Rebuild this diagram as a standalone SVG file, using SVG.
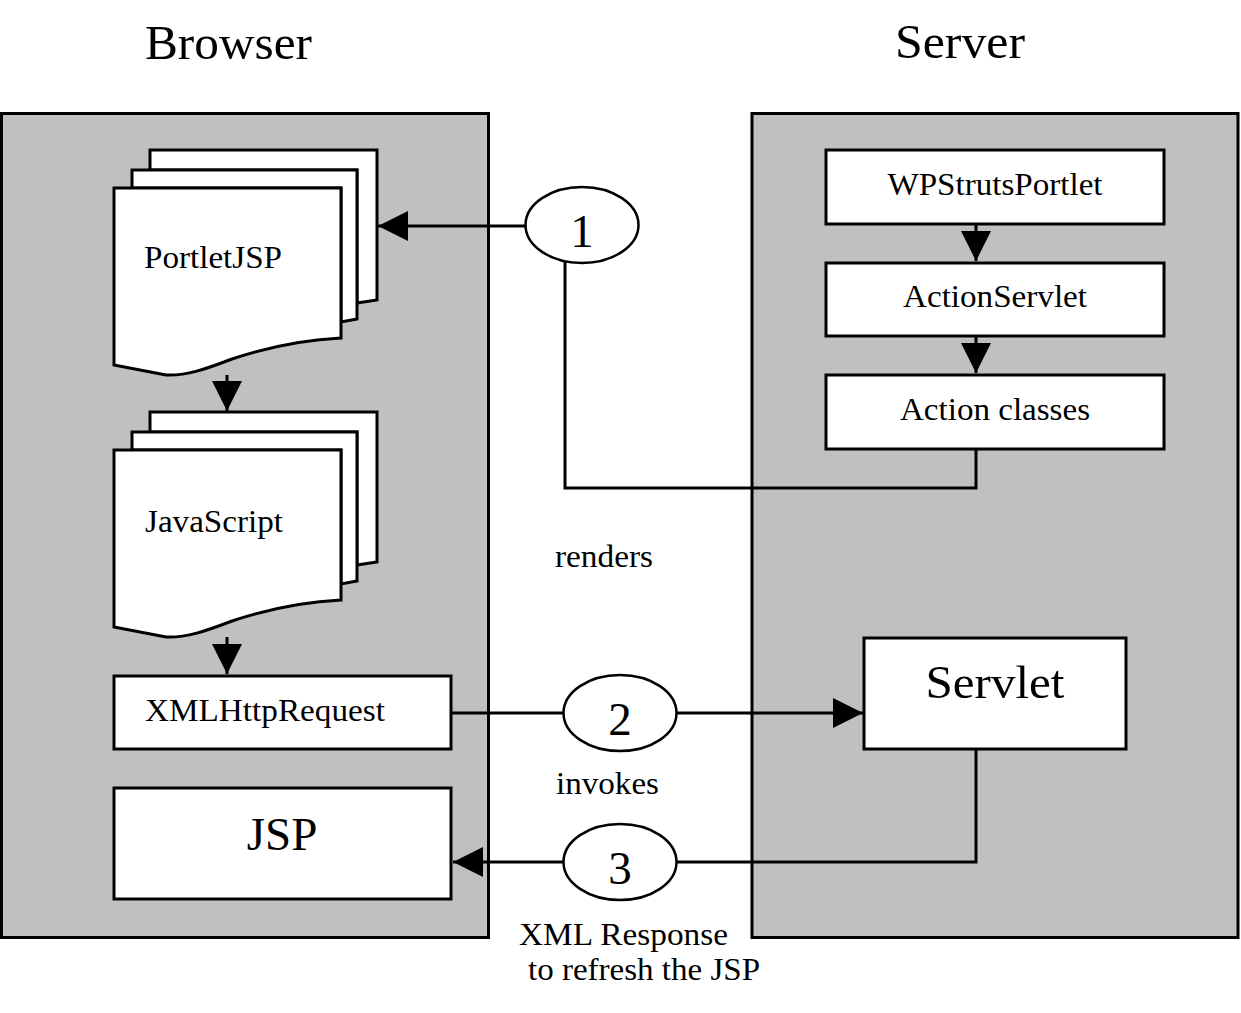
<svg xmlns="http://www.w3.org/2000/svg" width="1241" height="1013" viewBox="0 0 1241 1013">
<style>
.panel{fill:#c0c0c0;stroke:#000;stroke-width:3}
.box{fill:#fff;stroke:#000;stroke-width:3}
.doc{fill:#fff;stroke:#000;stroke-width:3;stroke-linejoin:miter}
.ell{fill:#fff;stroke:#000;stroke-width:2.5}
.conn{fill:none;stroke:#000;stroke-width:3}
text{font-family:"Liberation Serif","Times New Roman",serif;fill:#000}
.t{font-size:32px}
.big{font-size:47px}
.title{font-size:48px}
</style>
<defs>
<marker id="ah" markerUnits="userSpaceOnUse" markerWidth="31" markerHeight="31" refX="30" refY="15" orient="auto" viewBox="0 0 31 30">
<path d="M0,0 L30,15 L0,30 z" fill="#000"/>
</marker>
</defs>
<rect width="1241" height="1013" fill="#fff"/>
<text class="title" x="145" y="59" textLength="167" lengthAdjust="spacingAndGlyphs">Browser</text>
<text class="title" x="895" y="58" textLength="130" lengthAdjust="spacingAndGlyphs">Server</text>
<g id="browser-panel"><rect class="panel" x="1.5" y="113.5" width="487" height="824"/></g>
<g id="server-panel"><rect class="panel" x="752" y="113.5" width="486" height="824"/></g>
<g id="portletjsp">
<path class="doc" d="M150,150 L377,150 L377,300 L357,303 L357,170 L150,170 Z"/>
<path class="doc" d="M132,170 L357,170 L357,319 L341,322 L341,188 L132,188 Z"/>
<path class="doc" d="M114,188 L341,188 L341,338 C300,340 262,349 232,359 C206,369 186,376 166,375 L114,365 Z"/>
<text class="t" x="144" y="268" textLength="138" lengthAdjust="spacingAndGlyphs">PortletJSP</text>
</g>
<g id="javascript" transform="translate(0,262)">
<path class="doc" d="M150,150 L377,150 L377,300 L357,303 L357,170 L150,170 Z"/>
<path class="doc" d="M132,170 L357,170 L357,319 L341,322 L341,188 L132,188 Z"/>
<path class="doc" d="M114,188 L341,188 L341,338 C300,340 262,349 232,359 C206,369 186,376 166,375 L114,365 Z"/>
<text class="t" x="145" y="270" textLength="138" lengthAdjust="spacingAndGlyphs">JavaScript</text>
</g>
<g id="xmlhttprequest">
<rect class="box" x="114" y="676" width="337" height="73"/>
<text class="t" x="145" y="721" textLength="240" lengthAdjust="spacingAndGlyphs">XMLHttpRequest</text>
</g>
<g id="jsp">
<rect class="box" x="114" y="788" width="337" height="111"/>
<text class="big" x="282" y="850" text-anchor="middle">JSP</text>
</g>
<g id="wpstrutsportlet">
<rect class="box" x="826" y="150" width="338" height="74"/>
<text class="t" x="995" y="195" text-anchor="middle" textLength="215" lengthAdjust="spacingAndGlyphs">WPStrutsPortlet</text>
</g>
<g id="actionservlet">
<rect class="box" x="826" y="263" width="338" height="73"/>
<text class="t" x="995" y="307" text-anchor="middle" textLength="184" lengthAdjust="spacingAndGlyphs">ActionServlet</text>
</g>
<g id="actionclasses">
<rect class="box" x="826" y="375" width="338" height="74"/>
<text class="t" x="995" y="420" text-anchor="middle" textLength="190" lengthAdjust="spacingAndGlyphs">Action classes</text>
</g>
<g id="servlet">
<rect class="box" x="864" y="638" width="262" height="111"/>
<text class="big" x="995" y="698" text-anchor="middle" textLength="139" lengthAdjust="spacingAndGlyphs">Servlet</text>
</g>
<g id="connectors">
<line class="conn" x1="525" y1="226" x2="378" y2="226" marker-end="url(#ah)"/>
<polyline class="conn" points="976,449 976,488 565,488 565,262"/>
<line class="conn" x1="976" y1="224" x2="976" y2="261" marker-end="url(#ah)"/>
<line class="conn" x1="976" y1="336" x2="976" y2="373" marker-end="url(#ah)"/>
<line class="conn" x1="227" y1="375" x2="227" y2="411" marker-end="url(#ah)"/>
<line class="conn" x1="227" y1="637" x2="227" y2="674" marker-end="url(#ah)"/>
<line class="conn" x1="451" y1="713" x2="564" y2="713"/>
<line class="conn" x1="677" y1="713" x2="863" y2="713" marker-end="url(#ah)"/>
<polyline class="conn" points="976,749 976,862 677,862"/>
<line class="conn" x1="564" y1="862" x2="453" y2="862" marker-end="url(#ah)"/>
</g>
<g id="step1">
<ellipse class="ell" cx="582" cy="225" rx="56.5" ry="38"/>
<text class="big" x="582" y="247" text-anchor="middle">1</text>
</g>
<g id="step2">
<ellipse class="ell" cx="620" cy="713" rx="56.5" ry="38"/>
<text class="big" x="620" y="735" text-anchor="middle">2</text>
</g>
<g id="step3">
<ellipse class="ell" cx="620" cy="862" rx="56.5" ry="38"/>
<text class="big" x="620" y="884" text-anchor="middle">3</text>
</g>
<g id="labels">
<text class="t" x="555" y="567" textLength="98" lengthAdjust="spacingAndGlyphs">renders</text>
<text class="t" x="556" y="794" textLength="103" lengthAdjust="spacingAndGlyphs">invokes</text>
<text class="t" x="519" y="945" textLength="209" lengthAdjust="spacingAndGlyphs">XML Response</text>
<text class="t" x="528" y="980" textLength="232" lengthAdjust="spacingAndGlyphs">to refresh the JSP</text>
</g>
</svg>
